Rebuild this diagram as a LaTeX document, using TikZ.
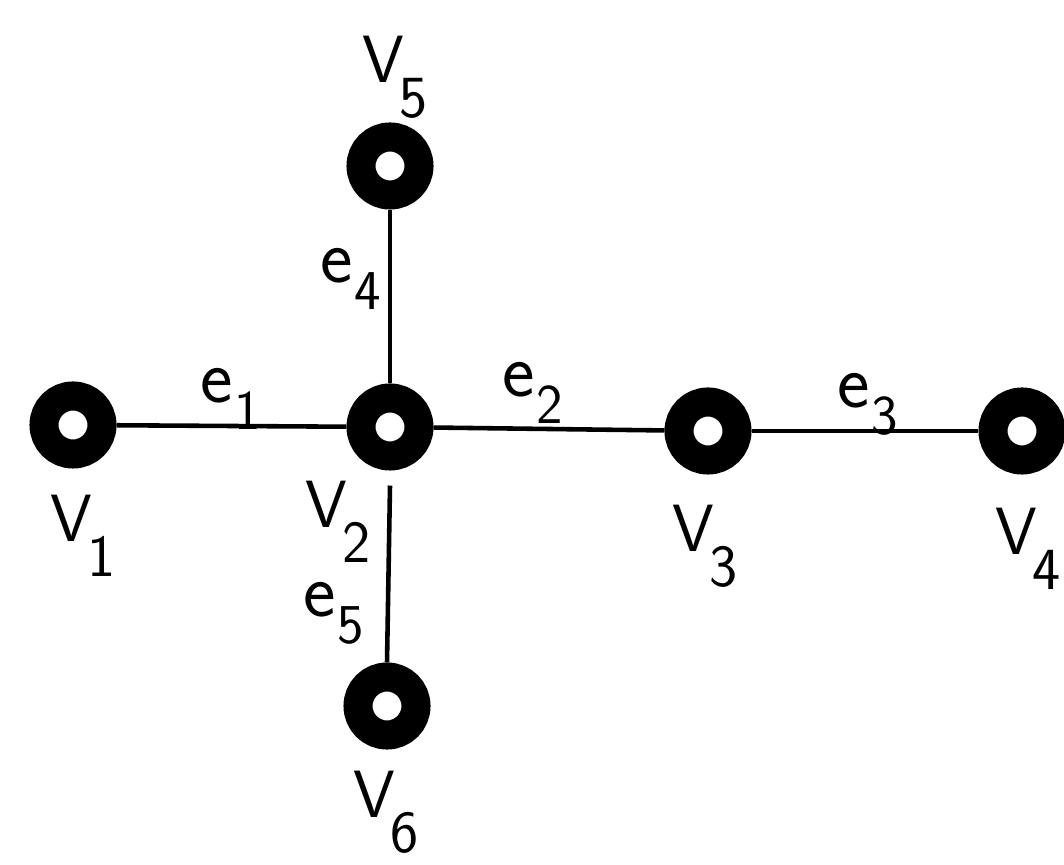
\documentclass[tikz,border=0pt]{standalone}
\usepackage{amsmath}
\usepackage{xcolor}
\usepackage{tikz}
\usetikzlibrary{positioning}
\definecolor{inkColor}{RGB}{0,0,0}
\tikzstyle{vertex} = [circle, draw=inkColor, fill=white, line width=0.29cm, minimum size=0.58cm, inner sep=0pt]
\tikzstyle{edge} = [draw=inkColor, line width=1.3pt]
\tikzstyle{lab} = [inner sep=0pt, text=inkColor, anchor=base west, font=\sffamily]
\newcommand{\vlab}[1]{\fontsize{19}{22}\selectfont V\kern-0.08em\raisebox{-0.34cm}{\fontsize{17}{20}\selectfont #1}}
\newcommand{\elab}[1]{\fontsize{22}{24}\selectfont e\kern0.02em\raisebox{-0.26cm}{\fontsize{16}{18}\selectfont #1}}

\begin{document}
\begin{tikzpicture}[x=0.01cm, y=-0.01cm]
        \useasboundingbox (0,0) rectangle (1064,865);
        \node (v1) [vertex] at (73,425) {};
        \node (v2) [vertex] at (390,427) {};
        \node (v3) [vertex] at (708,431) {};
        \node (v4) [vertex] at (1022,431) {};
        \node (v5) [vertex] at (390,166) {};
        \node (v6) [vertex] at (387,706) {};

        \draw [edge] (v1) -- (v2);
        \draw [edge] (v2) -- (v3);
        \draw [edge] (v3) -- (v4);
        \draw [edge] (v5) -- (v2);
        \draw [edge] ([yshift=-0.15cm]v2.south) -- (v6.north);

        \node (lv1) [lab] at (50,542) {\vlab{1}};
        \node (lv2) [lab] at (305,528) {\vlab{2}};
        \node (lv3) [lab] at (672,552) {\vlab{3}};
        \node (lv4) [lab] at (995,555) {\vlab{4}};
        \node (lv5) [lab] at (362,83) {\vlab{5}};
        \node (lv6) [lab] at (353,818) {\vlab{6}};

        \node (le1) [lab] at (200,403) {\elab{1}};
        \node (le2) [lab] at (502,397) {\elab{2}};
        \node (le3) [lab] at (837,408) {\elab{3}};
        \node (le4) [lab] at (320,283) {\elab{4}};
        \node (le5) [lab] at (303,617) {\elab{5}};
    \end{tikzpicture}
\end{document}
